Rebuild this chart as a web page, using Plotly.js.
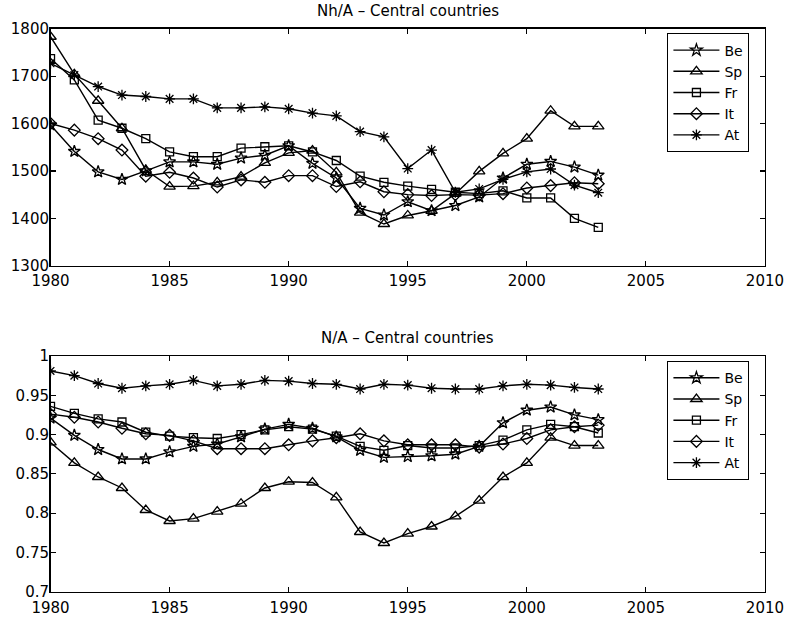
<!DOCTYPE html>
<html>
<head>
<meta charset="utf-8">
<script src="https://cdn.plot.ly/plotly-3.0.1.min.js"></script>
<style>
  html, body { margin: 0; padding: 0; background: #fff; }
  #chart { width: 787px; height: 621px; }
</style>
</head>
<body>
<div id="chart"></div>
<script>
// Years of observation
var years = [1980, 1981, 1982, 1983, 1984, 1985, 1986, 1987, 1988, 1989, 1990, 1991,
             1992, 1993, 1994, 1995, 1996, 1997, 1998, 1999, 2000, 2001, 2002, 2003];

var countries = ["Be", "Sp", "Fr", "It", "At"];

// Nh/A: hours worked per employed person
var nhaBe = [1597, 1541, 1498, 1482, 1500, 1519, 1519, 1514, 1527, 1533, 1553, 1516,
             1485, 1421, 1407, 1435, 1416, 1427, 1445, 1485, 1514, 1520, 1508, 1491];
var nhaSp = [1783, 1704, 1648, 1590, 1502, 1467, 1468, 1476, 1488, 1517, 1538, 1543,
             1497, 1412, 1388, 1406, 1416, 1452, 1499, 1537, 1568, 1627, 1594, 1594];
var nhaFr = [1737, 1692, 1607, 1590, 1568, 1540, 1530, 1530, 1548, 1551, 1553, 1540,
             1522, 1489, 1476, 1468, 1461, 1455, 1452, 1458, 1443, 1443, 1400, 1381];
var nhaIt = [1600, 1586, 1568, 1544, 1489, 1497, 1485, 1466, 1481, 1476, 1490, 1490,
             1467, 1477, 1456, 1450, 1448, 1450, 1449, 1452, 1464, 1469, 1475, 1473];
var nhaAt = [1727, 1702, 1678, 1660, 1657, 1652, 1652, 1633, 1633, 1635, 1631, 1622,
             1616, 1583, 1572, 1505, 1544, 1455, 1462, 1482, 1498, 1504, 1470, 1454];

// N/A: employment ratio
var naBe = [0.921, 0.899, 0.881, 0.869, 0.869, 0.878, 0.885, 0.888, 0.897, 0.907, 0.913, 0.908,
            0.897, 0.880, 0.871, 0.872, 0.873, 0.875, 0.885, 0.915, 0.931, 0.935, 0.925, 0.919];
var naSp = [0.890, 0.864, 0.846, 0.832, 0.804, 0.790, 0.793, 0.802, 0.812, 0.832, 0.840, 0.839,
            0.820, 0.776, 0.762, 0.774, 0.783, 0.796, 0.816, 0.846, 0.864, 0.896, 0.886, 0.886];
var naFr = [0.936, 0.927, 0.920, 0.916, 0.903, 0.898, 0.896, 0.895, 0.900, 0.906, 0.910, 0.907,
            0.898, 0.885, 0.880, 0.886, 0.883, 0.883, 0.886, 0.893, 0.906, 0.913, 0.910, 0.902];
var naIt = [0.926, 0.922, 0.916, 0.908, 0.901, 0.899, 0.892, 0.882, 0.882, 0.882, 0.887, 0.892,
            0.896, 0.901, 0.892, 0.887, 0.887, 0.887, 0.884, 0.888, 0.895, 0.906, 0.910, 0.912];
var naAt = [0.981, 0.975, 0.965, 0.959, 0.962, 0.964, 0.969, 0.962, 0.964, 0.969, 0.968, 0.965,
            0.964, 0.958, 0.964, 0.963, 0.959, 0.958, 0.958, 0.962, 0.964, 0.963, 0.960, 0.958];

var topTitle = "Nh/A \u2013 Central countries";
var bottomTitle = "N/A \u2013 Central countries";

var xTicks = [1980, 1985, 1990, 1995, 2000, 2005, 2010];
var topTicks = [1300, 1400, 1500, 1600, 1700, 1800];
var bottomTicks = [0.7, 0.75, 0.8, 0.85, 0.9, 0.95, 1];
var bottomTickText = ["0.7", "0.75", "0.8", "0.85", "0.9", "0.95", "1"];

// Marker style per country
var symbols = {Be: "star-open", Sp: "triangle-up-open", Fr: "square-open", It: "diamond-open", At: "asterisk-open"};
var sizes = {Be: 9, Sp: 10, Fr: 8, It: 9, At: 9};

var topSeries = {Be: nhaBe, Sp: nhaSp, Fr: nhaFr, It: nhaIt, At: nhaAt};
var bottomSeries = {Be: naBe, Sp: naSp, Fr: naFr, It: naIt, At: naAt};

function makeTrace(name, values, xa, ya, legendId) {
  return {
    type: "scatter",
    mode: "lines+markers",
    name: name,
    x: years,
    y: values,
    xaxis: xa,
    yaxis: ya,
    legend: legendId,
    line: {color: "#000", width: 1.4},
    marker: {symbol: symbols[name], size: sizes[name], color: "#000",
             line: {color: "#000", width: 1.3}}
  };
}

var traces = [];
countries.forEach(function (c) { traces.push(makeTrace(c, topSeries[c], "x", "y", "legend")); });
countries.forEach(function (c) { traces.push(makeTrace(c, bottomSeries[c], "x2", "y2", "legend2")); });

var family = "DejaVu Sans, Liberation Sans, Arial, sans-serif";
var font = {family: family, size: 15, color: "#000"};

function xAxis(anchor, standoff) {
  return {
    domain: [0.0642, 0.9720], anchor: anchor,
    range: [1980, 2010], tickmode: "array", tickvals: xTicks,
    ticks: "inside", ticklen: 5, tickcolor: "#000", tickwidth: 1.2,
    showline: true, linecolor: "#000", linewidth: 1.5, mirror: "ticks",
    showgrid: false, zeroline: false, tickfont: font, automargin: false,
    ticklabelstandoff: standoff
  };
}
function yAxis(anchor, domain, range, vals, text) {
  var a = {
    domain: domain, anchor: anchor, range: range,
    tickmode: "array", tickvals: vals,
    ticks: "inside", ticklen: 5, tickcolor: "#000", tickwidth: 1.2,
    showline: true, linecolor: "#000", linewidth: 1.5, mirror: "ticks",
    showgrid: false, zeroline: false, tickfont: font, automargin: false,
    ticklabelstandoff: -3
  };
  if (text) a.ticktext = text;
  return a;
}

function legendBox(y) {
  return {
    x: 0.952, xanchor: "right", y: y, yanchor: "top",
    bgcolor: "#fff", bordercolor: "#000", borderwidth: 1.2,
    itemwidth: 46,
    font: {family: family, size: 14, color: "#000"}, tracegroupgap: 0
  };
}

var layout = {
  width: 787, height: 621,
  margin: {l: 0, r: 0, t: 0, b: 0},
  paper_bgcolor: "#fff", plot_bgcolor: "#fff",
  font: font,
  showlegend: true,
  xaxis: xAxis("y", 1),
  yaxis: yAxis("x", [0.5721, 0.9538], [1300, 1800], topTicks),
  xaxis2: xAxis("y2", 2),
  yaxis2: yAxis("x2", [0.0472, 0.4267], [0.7, 1], bottomTicks, bottomTickText),
  legend: legendBox(0.9464),
  legend2: legendBox(0.4187),
  annotations: [
    {text: topTitle, xref: "paper", yref: "paper", x: 0.518, y: 0.982,
     xanchor: "center", yanchor: "middle", showarrow: false, font: {family: family, size: 15, color: "#000"}},
    {text: bottomTitle, xref: "paper", yref: "paper", x: 0.518, y: 0.4557,
     xanchor: "center", yanchor: "middle", showarrow: false, font: {family: family, size: 15, color: "#000"}}
  ]
};

Plotly.newPlot("chart", traces, layout, {displayModeBar: false, staticPlot: true});
</script>
</body>
</html>
